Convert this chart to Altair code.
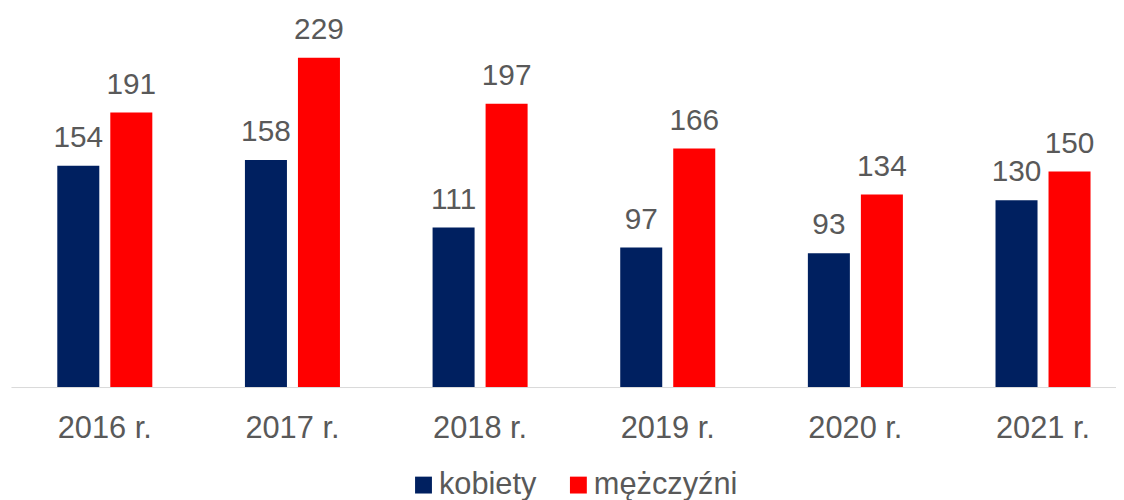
import altair as alt
import pandas as pd

years = ["2016 r.", "2017 r.", "2018 r.", "2019 r.", "2020 r.", "2021 r."]
kobiety = [154, 158, 111, 97, 93, 130]
mezczyzni = [191, 229, 197, 166, 134, 150]
series = ["kobiety", "mężczyźni"]
colors = ["#002060", "#FF0000"]

rows = []
for i, y in enumerate(years):
    rows.append({"rok": y, "płeć": series[0], "wartość": kobiety[i]})
    rows.append({"rok": y, "płeć": series[1], "wartość": mezczyzni[i]})
df = pd.DataFrame(rows)

FONT = "Liberation Sans"
GREY = "#595959"

x = alt.X("rok:N", sort=years, title=None,
          scale=alt.Scale(range=[0, 1134], paddingInner=0.4936, paddingOuter=0.2468, round=False),
          axis=alt.Axis(labelAngle=0, ticks=False, labelPadding=27, labelFontSize=31,
                        labelFont=FONT, labelColor=GREY, domainColor="#D9D9D9",
                        domainWidth=1, grid=False))
xo = alt.XOffset("płeć:N", sort=series,
                 scale=alt.Scale(paddingInner=0.2075, paddingOuter=0, round=False))
y = alt.Y("wartość:Q", scale=alt.Scale(domain=[0, 250]), axis=None)

bars = alt.Chart(df).mark_bar().encode(
    x=x, xOffset=xo, y=y,
    color=alt.Color("płeć:N", sort=series,
                    scale=alt.Scale(domain=series, range=colors),
                    legend=alt.Legend(title=None, orient="none", direction="horizontal",
                                      legendX=400, legendY=445, symbolType="square",
                                      symbolSize=289, symbolStrokeWidth=0,
                                      labelFont=FONT, labelFontSize=31, labelColor=GREY,
                                      columnPadding=26, labelOffset=0, padding=0))
)

labels = alt.Chart(df).mark_text(
    baseline="alphabetic", dy=-19, fontSize=30, font=FONT, color=GREY
).encode(x=x, xOffset=xo, y=y, text="wartość:Q")

chart = (bars + labels).properties(
    width=1105, height=362,
    autosize=alt.AutoSizeParams(type="none"),
    padding={"left": 3, "top": 18, "right": 8, "bottom": 112},
).configure_view(stroke=None)

chart.save("out.html", embed_options={"renderer": "svg", "actions": False})
